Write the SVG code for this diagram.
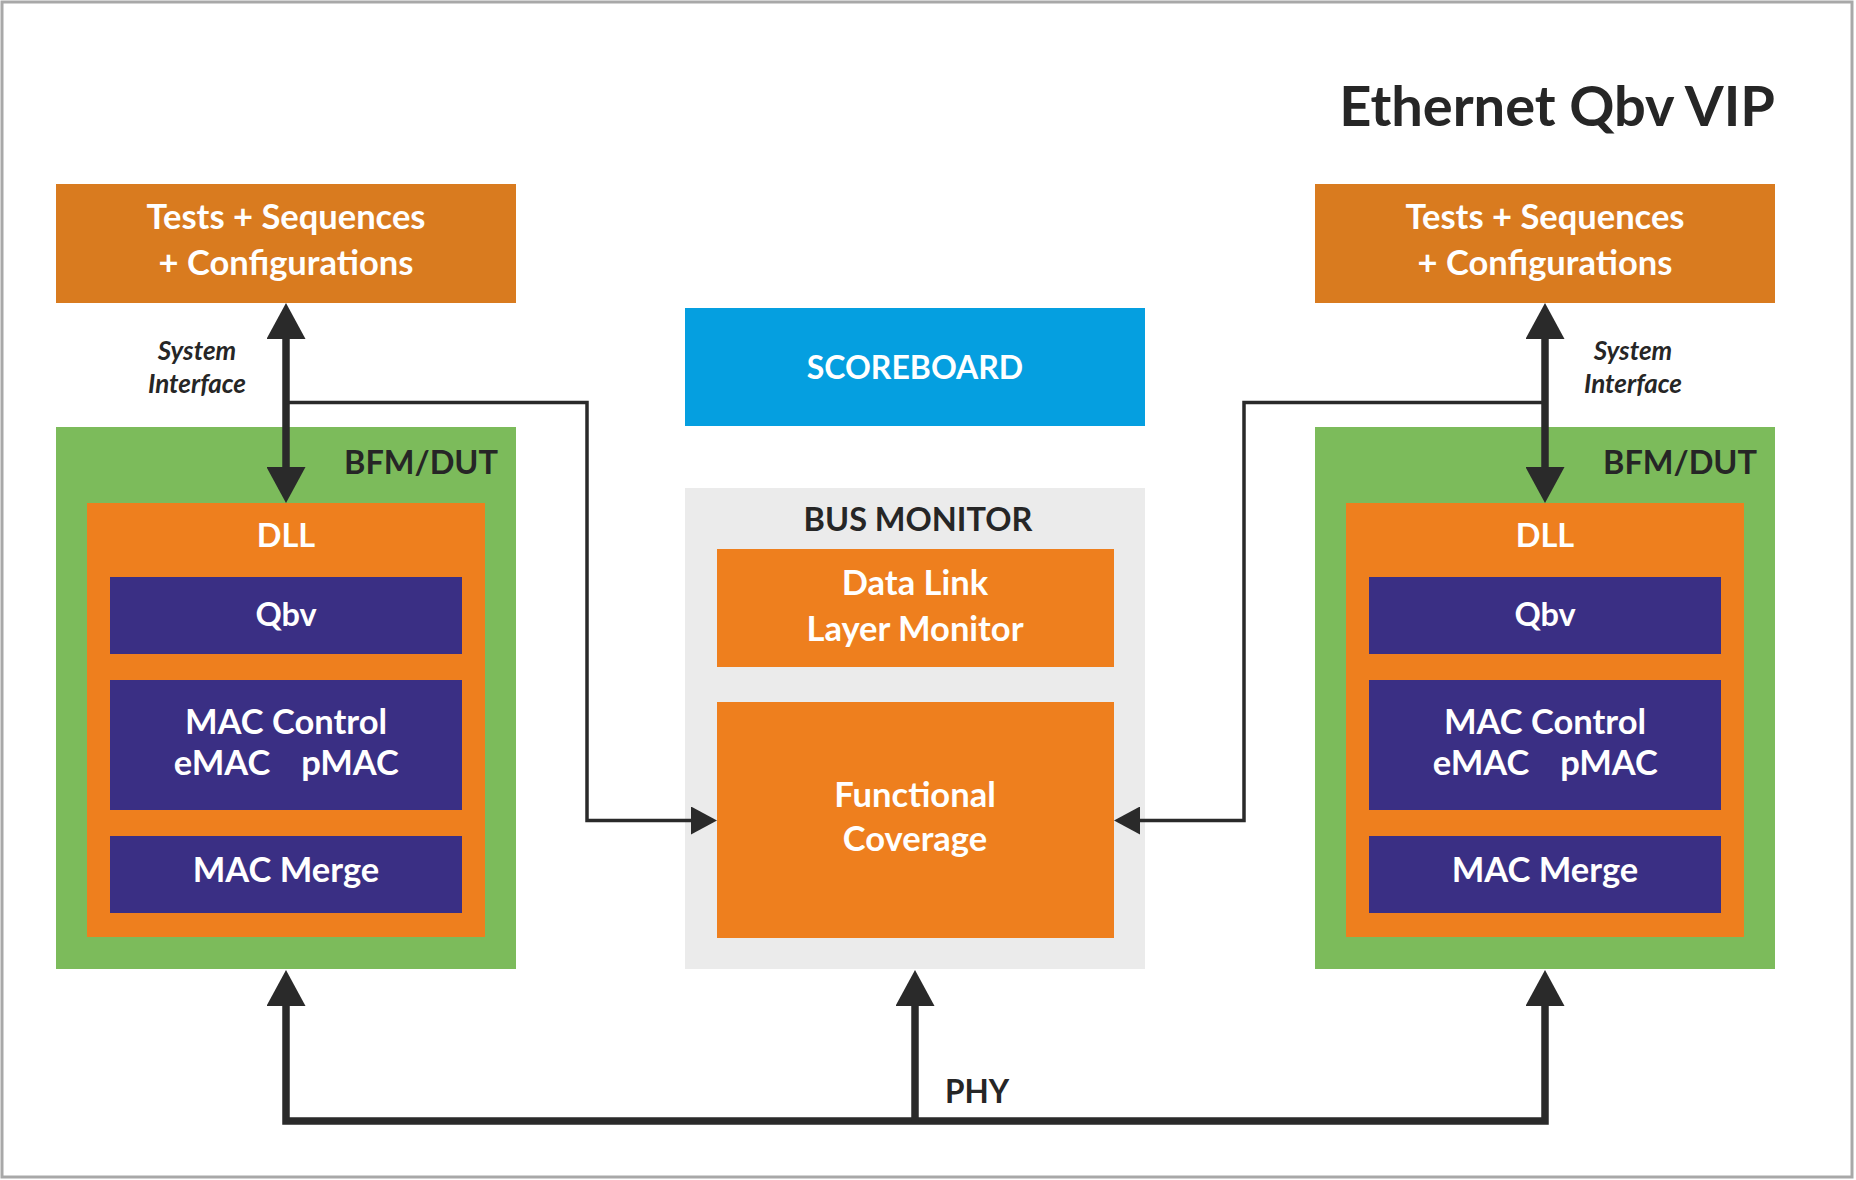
<svg xmlns="http://www.w3.org/2000/svg" width="1856" height="1180" viewBox="0 0 1856 1180">
<style>
text{font-family:Lato,"Open Sans","Liberation Sans",sans-serif;font-weight:700}
.w{fill:#ffffff}
.d{fill:#262626}
.c{text-anchor:middle}
.e{text-anchor:end}
.t1{font-size:34.5px}
.t2{font-size:32.5px}
.it{font-size:26px;font-style:italic}
.tests{fill:#D97B1F}
.bfm{fill:#7CBB5B}
.dll{fill:#EE7F1E}
.ind{fill:#3A2F84}
.thick{fill:none;stroke:#2a2a2a;stroke-width:7.5;stroke-linejoin:miter}
.thin{fill:none;stroke:#2a2a2a;stroke-width:3.5;stroke-linejoin:miter}
</style>
<defs>
<marker id="hb" markerUnits="userSpaceOnUse" viewBox="0 0 36 39" markerWidth="36" markerHeight="39" refX="0" refY="19.5" orient="auto-start-reverse">
<path d="M0,0 L36,19.5 L0,39 Z" fill="#2a2a2a"/>
</marker>
<marker id="hs" markerUnits="userSpaceOnUse" viewBox="0 0 26 28" markerWidth="26" markerHeight="28" refX="0" refY="14" orient="auto">
<path d="M0,0 L26,14 L0,28 Z" fill="#2a2a2a"/>
</marker>
</defs>
<rect x="0" y="0" width="1856" height="1180" fill="#ffffff"/>
<rect x="2" y="2" width="1850" height="1175" fill="none" stroke="#a8a8a8" stroke-width="3"/>
<text id="title" class="d e" x="1775" y="126" style="font-size:56px">Ethernet Qbv VIP</text>

<g id="tests-left">
<rect class="tests" x="56" y="184" width="460" height="119"/>
<text class="w c t1" x="286" y="229">Tests + Sequences</text>
<text class="w c t1" x="286" y="275">+ Configurations</text>
</g>
<g id="tests-right">
<rect class="tests" x="1315" y="184" width="460" height="119"/>
<text class="w c t1" x="1545" y="229">Tests + Sequences</text>
<text class="w c t1" x="1545" y="275">+ Configurations</text>
</g>

<g id="scoreboard">
<rect x="685" y="308" width="460" height="118" fill="#059FE0"/>
<text class="w c" x="915" y="379" style="font-size:32px">SCOREBOARD</text>
</g>

<g id="bfm-left">
<rect class="bfm" x="56" y="427" width="460" height="542"/>
<text class="d e t2" x="498" y="474">BFM/DUT</text>
<g id="dll-left">
<rect class="dll" x="87" y="503" width="398" height="434"/>
<text class="w c t2" x="286" y="547">DLL</text>
</g>
<g id="qbv-left">
<rect class="ind" x="110" y="577" width="352" height="77"/>
<text class="w c t2" x="286" y="626">Qbv</text>
</g>
<g id="macctl-left">
<rect class="ind" x="110" y="680" width="352" height="130"/>
<text class="w c t1" x="286" y="734">MAC Control</text>
<text class="w c t1" y="775"><tspan x="222">eMAC</tspan><tspan x="350">pMAC</tspan></text>
</g>
<g id="macmerge-left">
<rect class="ind" x="110" y="836" width="352" height="77"/>
<text class="w c t1" x="286" y="882">MAC Merge</text>
</g>
</g>

<g id="bfm-right">
<rect class="bfm" x="1315" y="427" width="460" height="542"/>
<text class="d e t2" x="1757" y="474">BFM/DUT</text>
<g id="dll-right">
<rect class="dll" x="1346" y="503" width="398" height="434"/>
<text class="w c t2" x="1545" y="547">DLL</text>
</g>
<g id="qbv-right">
<rect class="ind" x="1369" y="577" width="352" height="77"/>
<text class="w c t2" x="1545" y="626">Qbv</text>
</g>
<g id="macctl-right">
<rect class="ind" x="1369" y="680" width="352" height="130"/>
<text class="w c t1" x="1545" y="734">MAC Control</text>
<text class="w c t1" y="775"><tspan x="1481">eMAC</tspan><tspan x="1609">pMAC</tspan></text>
</g>
<g id="macmerge-right">
<rect class="ind" x="1369" y="836" width="352" height="77"/>
<text class="w c t1" x="1545" y="882">MAC Merge</text>
</g>
</g>

<g id="busmonitor">
<rect x="685" y="488" width="460" height="481" fill="#EBEBEB"/>
<text class="d c" x="918" y="531" style="font-size:32.5px">BUS MONITOR</text>
<g id="dllmon">
<rect class="dll" x="717" y="549" width="397" height="118"/>
<text class="w c t1" x="915" y="595">Data Link</text>
<text class="w c t1" x="915" y="641">Layer Monitor</text>
</g>
<g id="funccov">
<rect class="dll" x="717" y="702" width="397" height="236"/>
<text class="w c t1" x="915" y="807">Functional</text>
<text class="w c t1" x="915" y="851">Coverage</text>
</g>
</g>

<g id="connectors">
<path class="thick" d="M286,339 V467" marker-start="url(#hb)" marker-end="url(#hb)"/>
<path class="thick" d="M1545,339 V467" marker-start="url(#hb)" marker-end="url(#hb)"/>
<path class="thin" d="M286,402.5 H587 V820.5 H691" marker-end="url(#hs)"/>
<path class="thin" d="M1545,402.5 H1244 V820.5 H1140" marker-end="url(#hs)"/>
<path class="thick" d="M286,1006 V1121 H1545 V1006" marker-start="url(#hb)" marker-end="url(#hb)"/>
<path class="thick" d="M915,1121 V1006" marker-end="url(#hb)"/>
<text class="d it c" x="197" y="360">System</text>
<text class="d it c" x="197" y="393">Interface</text>
<text class="d it c" x="1633" y="360">System</text>
<text class="d it c" x="1633" y="393">Interface</text>
<text class="d" x="945" y="1103" style="font-size:31.5px">PHY</text>
</g>
</svg>
